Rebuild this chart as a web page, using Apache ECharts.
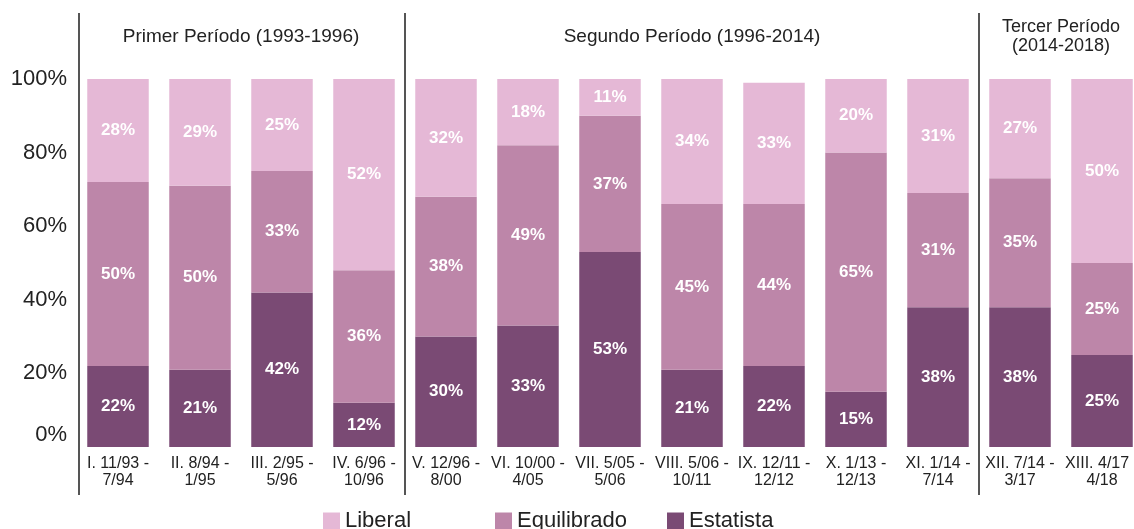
<!DOCTYPE html>
<html>
<head>
<meta charset="utf-8">
<script src="https://cdn.jsdelivr.net/npm/echarts@6/dist/echarts.min.js"></script>
<style>
html,body{margin:0;padding:0;background:#fff;}
#chart{width:1134px;height:529px;}
</style>
</head>
<body>
<div id="chart"></div>
<script>
// periodos de gobierno
var categorias = ['I. 11/93 -\n7/94', 'II. 8/94 -\n1/95', 'III. 2/95 -\n5/96', 'IV. 6/96 -\n10/96',
	'V. 12/96 -\n8/00', 'VI. 10/00 -\n4/05', 'VII. 5/05 -\n5/06', 'VIII. 5/06 -\n10/11',
	'IX. 12/11 -\n12/12', 'X. 1/13 -\n12/13', 'XI. 1/14 -\n7/14', 'XII. 7/14 -\n3/17', 'XIII. 4/17 -\n4/18'];
var estatista = [22, 21, 42, 12, 30, 33, 53, 21, 22, 15, 38, 38, 25];
var equilibrado = [50, 50, 33, 36, 38, 49, 37, 45, 44, 65, 31, 35, 25];
var liberal = [28, 29, 25, 52, 32, 18, 11, 34, 33, 20, 31, 27, 50];
var ejeY = [0, 20, 40, 60, 80, 100];
var leyenda = ['Liberal', 'Equilibrado', 'Estatista'];
// titulos de cada periodo: [primer indice, ultimo indice, texto]
var periodos = [
	[0, 3, 'Primer Período (1993-1996)'],
	[4, 10, 'Segundo Período (1996-2014)'],
	[11, 12, 'Tercer Período\n(2014-2018)']
];

var font = '"Liberation Sans", Arial, sans-serif';
var dom = document.getElementById('chart');
var myChart = echarts.init(dom);

var etiqueta = {
	show: true,
	position: 'inside',
	formatter: '{c}%',
	color: '#fff',
	fontSize: 17,
	fontWeight: 'bold',
	fontFamily: font
};

function serie(nombre, datos, color) {
	return {
		name: nombre,
		type: 'bar',
		stack: 'total',
		barCategoryGap: '25%',
		data: datos,
		itemStyle: { color: color },
		label: etiqueta
	};
}

// una leyenda por elemento para respetar la separacion del original
var posLeyenda = [323, 495, 667];
var leyendas = leyenda.map(function (nombre, i) {
	return {
		data: [nombre],
		left: posLeyenda[i],
		top: 510,
		padding: 0,
		itemWidth: 17,
		itemHeight: 17,
		icon: 'rect',
		textStyle: { fontSize: 22, color: '#222', fontFamily: font }
	};
});

var option = {
	animation: false,
	grid: { left: 77, right: -9, top: 79, bottom: 82, outerBoundsMode: 'none', containLabel: false },
	legend: leyendas,
	xAxis: {
		type: 'category',
		data: categorias,
		axisLine: { show: false },
		axisTick: { show: false },
		axisLabel: {
			interval: 0,
			margin: 8,
			fontSize: 16,
			lineHeight: 17,
			color: '#222',
			fontFamily: font
		}
	},
	yAxis: {
		type: 'value',
		min: ejeY[0],
		max: ejeY[ejeY.length - 1],
		interval: 20,
		splitLine: { show: false },
		axisLine: { show: false },
		axisTick: { show: false },
		axisLabel: {
			margin: 10,
			fontSize: 22,
			color: '#222',
			fontFamily: font,
			formatter: function (v) {
				return v === 0 ? '{cero|0%}' : v + '%';
			},
			rich: {
				cero: { fontSize: 22, color: '#222', fontFamily: font, padding: [0, 0, 24, 0] }
			}
		}
	},
	series: [
		serie('Estatista', estatista, '#7a4a74'),
		serie('Equilibrado', equilibrado, '#bd86a9'),
		serie('Liberal', liberal, '#e5b8d6')
	]
};
myChart.setOption(option, true);

// separadores y titulos de periodo
var paso = myChart.convertToPixel({ xAxisIndex: 0 }, 1) - myChart.convertToPixel({ xAxisIndex: 0 }, 0);
var graficos = [];
var bordes = [];
periodos.forEach(function (p) {
	var x0 = myChart.convertToPixel({ xAxisIndex: 0 }, p[0]) - paso / 2;
	var x1 = myChart.convertToPixel({ xAxisIndex: 0 }, p[1]) + paso / 2;
	if (p[1] < categorias.length - 1) bordes.push(x1);
	var dosLineas = p[2].indexOf('\n') >= 0;
	graficos.push({
		type: 'text',
		x: (x0 + x1) / 2,
		y: dosLineas ? 37 : 37,
		style: {
			text: p[2],
			fill: '#222',
			font: (dosLineas ? '18px ' : '19px ') + font,
			lineHeight: 19,
			align: 'center',
			verticalAlign: 'middle'
		}
	});
});
bordes.unshift(myChart.convertToPixel({ xAxisIndex: 0 }, 0) - paso / 2 + 1.5);
bordes.forEach(function (x) {
	graficos.push({
		type: 'line',
		shape: { x1: Math.round(x), y1: 13, x2: Math.round(x), y2: 495 },
		style: { stroke: '#555', lineWidth: 2 }
	});
});
myChart.setOption({ graphic: graficos });
</script>
</body>
</html>
